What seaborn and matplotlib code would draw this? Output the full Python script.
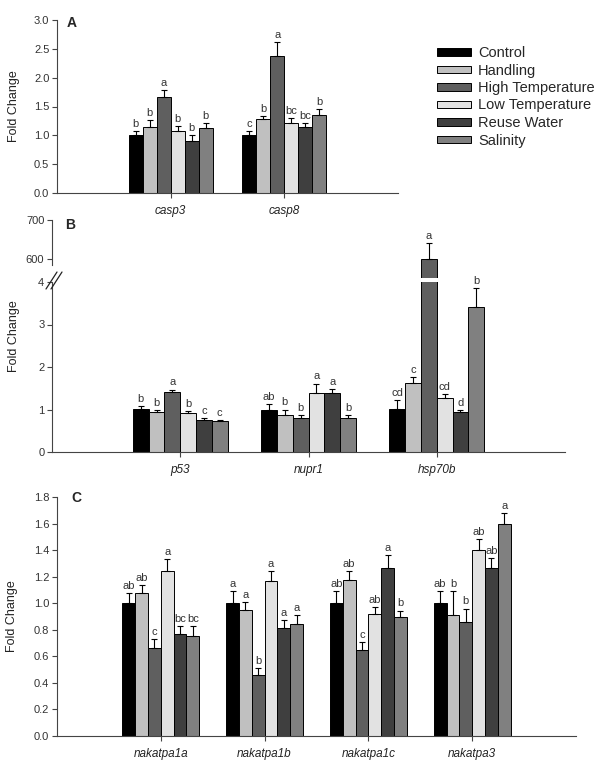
import matplotlib
matplotlib.use('Agg')
import matplotlib.pyplot as plt
import seaborn as sns
import pandas as pd
from matplotlib.patches import Patch
from matplotlib.lines import Line2D
from matplotlib.container import BarContainer

# Treatments and bar colours
treatments = ['Control', 'Handling', 'High Temperature', 'Low Temperature', 'Reuse Water', 'Salinity']
colors = ['#000000', '#c0c0c0', '#5f5f5f', '#e2e2e2', '#3f3f3f', '#808080']

# Panel A - apoptosis genes
genes_a = ['casp3', 'casp8']
means_a = [[1.00, 1.15, 1.67, 1.08, 0.90, 1.13],
           [1.00, 1.28, 2.38, 1.22, 1.15, 1.35]]
errs_a = [[0.07, 0.12, 0.11, 0.08, 0.10, 0.09],
          [0.07, 0.05, 0.24, 0.08, 0.07, 0.10]]
letters_a = [['b', 'b', 'a', 'b', 'b', 'b'],
             ['c', 'b', 'a', 'bc', 'bc', 'b']]

# Panel B - stress genes (broken axis)
genes_b = ['p53', 'nupr1', 'hsp70b']
means_b = [[1.01, 0.95, 1.41, 0.92, 0.75, 0.72],
           [1.00, 0.87, 0.79, 1.38, 1.38, 0.79],
           [1.02, 1.63, 600.0, 1.26, 0.93, 3.41]]
errs_b = [[0.08, 0.04, 0.06, 0.05, 0.04, 0.04],
          [0.13, 0.13, 0.09, 0.23, 0.11, 0.08],
          [0.20, 0.13, 41.0, 0.10, 0.06, 0.44]]
letters_b = [['b', 'b', 'a', 'b', 'c', 'c'],
             ['ab', 'b', 'b', 'a', 'a', 'b'],
             ['cd', 'c', 'a', 'cd', 'd', 'b']]

# Panel C - Na/K ATPase genes
genes_c = ['nakatpa1a', 'nakatpa1b', 'nakatpa1c', 'nakatpa3']
means_c = [[1.00, 1.08, 0.66, 1.24, 0.77, 0.75],
           [1.00, 0.95, 0.46, 1.17, 0.81, 0.84],
           [1.00, 1.175, 0.645, 0.92, 1.265, 0.895],
           [1.00, 0.91, 0.855, 1.40, 1.265, 1.60]]
errs_c = [[0.08, 0.06, 0.07, 0.09, 0.06, 0.08],
          [0.09, 0.06, 0.05, 0.07, 0.06, 0.07],
          [0.09, 0.07, 0.065, 0.05, 0.10, 0.05],
          [0.09, 0.185, 0.105, 0.08, 0.075, 0.08]]
letters_c = [['ab', 'ab', 'c', 'a', 'bc', 'bc'],
             ['a', 'a', 'b', 'a', 'a', 'a'],
             ['ab', 'ab', 'c', 'ab', 'a', 'b'],
             ['ab', 'b', 'b', 'ab', 'ab', 'a']]

sns.set_style('ticks')
plt.rcParams['font.family'] = ['Liberation Sans', 'DejaVu Sans']
W, H = 600, 775
axis_col = '#444444'
text_col = '#333333'


def make_df(genes, means):
    rows = []
    for g, vals in zip(genes, means):
        for t, v in zip(treatments, vals):
            rows.append({'gene': g, 'treatment': t, 'value': v})
    return pd.DataFrame(rows)


def px_axes(left, top, right, bottom):
    return fig.add_axes([left / W, 1 - bottom / H, (right - left) / W, (bottom - top) / H])


def draw_bars(ax, genes, means):
    df = make_df(genes, means)
    sns.barplot(data=df, x='gene', y='value', hue='treatment', order=genes,
                hue_order=treatments, palette=colors, saturation=1, width=0.74,
                edgecolor='black', linewidth=0.7, errorbar=None, legend=False, ax=ax)
    ax.set_xlim(-1, len(genes))
    ax.set_xlabel('')


def annotate(ax, genes, means, errs, letters, keep=lambda v: True):
    bar_conts = [c for c in ax.containers if isinstance(c, BarContainer)]
    for i, cont in enumerate(bar_conts):
        for j, bar in enumerate(cont):
            v = means[j][i]
            if not keep(v):
                continue
            x = bar.get_x() + bar.get_width() / 2
            e = errs[j][i]
            ax.errorbar([x], [v], yerr=[[0], [e]], fmt='none', ecolor='black',
                        elinewidth=0.8, capsize=2.2, capthick=0.8, zorder=3)
            ax.annotate(letters[j][i], (x, v + e), xytext=(0, 1.5),
                        textcoords='offset points', ha='center', va='bottom',
                        fontsize=8, color=text_col)


def style(ax):
    sns.despine(ax=ax)
    for s in ['left', 'bottom']:
        ax.spines[s].set_color(axis_col)
        ax.spines[s].set_linewidth(0.8)
    ax.tick_params(axis='y', direction='out', length=3.5, width=0.8, color=axis_col,
                   labelsize=8, labelcolor=text_col, pad=2)
    ax.tick_params(axis='x', direction='inout', length=7, width=0.8, color=axis_col,
                   labelsize=8.5, labelcolor='#222222', pad=5)
    for lab in ax.get_xticklabels():
        lab.set_fontstyle('italic')


fig = plt.figure(figsize=(W / 100, H / 100), dpi=100)

# Panel A
ax_a = px_axes(57, 20, 398, 193)
draw_bars(ax_a, genes_a, means_a)
annotate(ax_a, genes_a, means_a, errs_a, letters_a)
ax_a.set_ylim(0, 3)
ax_a.set_yticks([0, 0.5, 1.0, 1.5, 2.0, 2.5, 3.0])
ax_a.set_yticklabels(['0.0', '0.5', '1.0', '1.5', '2.0', '2.5', '3.0'])
ax_a.set_ylabel('Fold Change', fontsize=9, color='#222222')
ax_a.yaxis.set_label_coords(-37 / 341, 0.5)
style(ax_a)

# Panel B (broken y axis)
ax_bt = px_axes(52, 220, 565, 278)
ax_b = px_axes(52, 282, 565, 452)
draw_bars(ax_bt, genes_b, means_b)
draw_bars(ax_b, genes_b, means_b)
annotate(ax_b, genes_b, means_b, errs_b, letters_b, keep=lambda v: v < 4)
annotate(ax_bt, genes_b, means_b, errs_b, letters_b, keep=lambda v: v >= 4)
ax_b.set_ylim(0, 4)
ax_b.set_yticks([0, 1, 2, 3, 4])
ax_bt.set_ylim(551, 700)
ax_bt.set_yticks([600, 700])
ax_b.set_ylabel('Fold Change', fontsize=9, color='#222222')
ax_b.yaxis.set_label_coords(-32 / 513, (452 - 336) / 170)
style(ax_b)
style(ax_bt)
ax_bt.spines['bottom'].set_visible(False)
ax_bt.spines['left'].set_bounds(585, 700)
ax_bt.set_xticks([])
ax_bt.set_ylabel('')
# break marks on the y axis
for dx in [0, 5]:
    fig.add_artist(Line2D([(46 + dx) / W, (57 + dx) / W], [1 - 289 / H, 1 - 272 / H],
                          color='#222222', linewidth=0.9))

# Panel C
ax_c = px_axes(57, 497, 576, 736)
draw_bars(ax_c, genes_c, means_c)
annotate(ax_c, genes_c, means_c, errs_c, letters_c)
ax_c.set_ylim(0, 1.8)
ax_c.set_yticks([0, 0.2, 0.4, 0.6, 0.8, 1.0, 1.2, 1.4, 1.6, 1.8])
ax_c.set_yticklabels(['0.0', '0.2', '0.4', '0.6', '0.8', '1.0', '1.2', '1.4', '1.6', '1.8'])
ax_c.set_ylabel('Fold Change', fontsize=9, color='#222222')
ax_c.yaxis.set_label_coords(-39 / 519, 0.5)
style(ax_c)

# Panel letters
fig.text(72 / W, 1 - 23 / H, 'A', fontsize=10, fontweight='bold', ha='center', va='center')
fig.text(70 / W, 1 - 225 / H, 'B', fontsize=10, fontweight='bold', ha='center', va='center')
fig.text(76 / W, 1 - 498 / H, 'C', fontsize=10, fontweight='bold', ha='center', va='center')

# Legend
handles = [Patch(facecolor=c, edgecolor='black', linewidth=0.7, label=t)
           for t, c in zip(treatments, colors)]
fig.legend(handles=handles, loc='upper left', bbox_to_anchor=(437 / W, 1 - 46 / H),
           frameon=False, fontsize=10.5, handlelength=2.33, handleheight=0.42,
           handletextpad=0.48, labelspacing=0.24, borderpad=0, borderaxespad=0)

fig.savefig('out.png', dpi=100)
